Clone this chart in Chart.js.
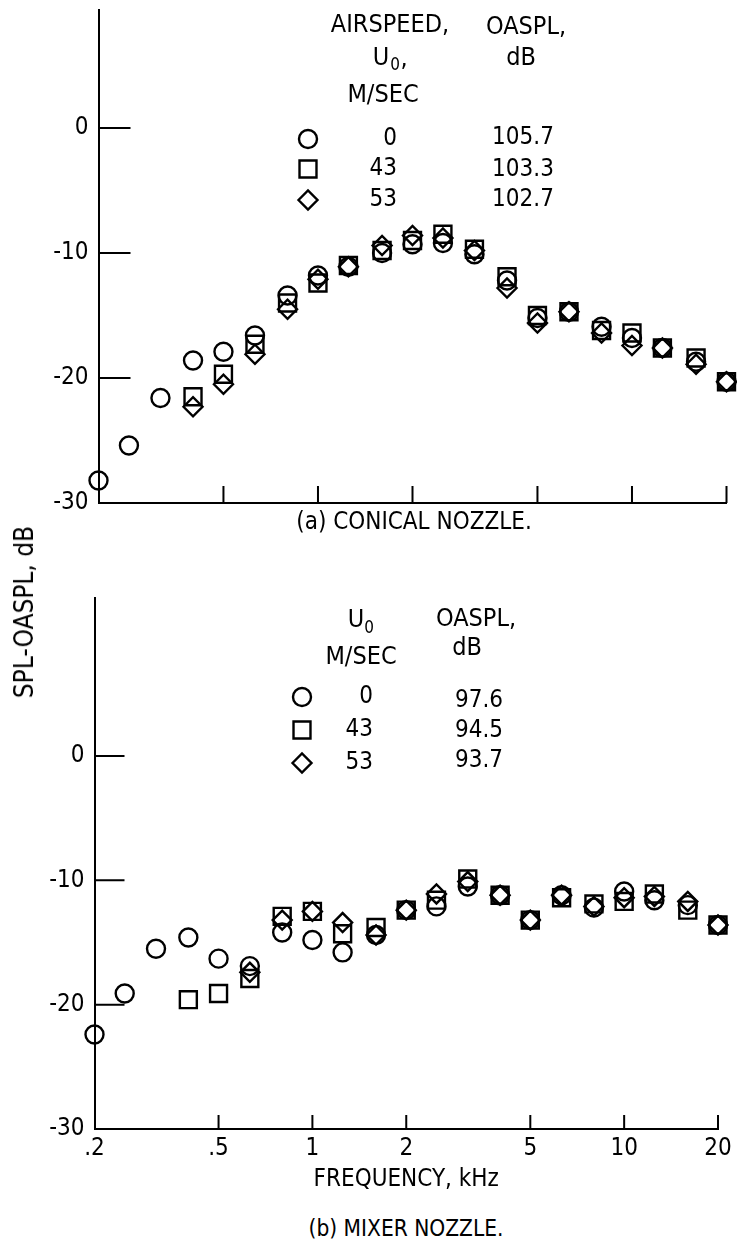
<!DOCTYPE html>
<html>
<head>
<meta charset="utf-8">
<script src="https://cdn.jsdelivr.net/npm/chart.js@4/dist/chart.umd.min.js"></script>
<style>
  html, body { margin: 0; padding: 0; background: #fff; }
  #page {
    position: relative; width: 737px; height: 1247px; overflow: hidden;
    font-family: 'Liberation Sans Narrow', 'DejaVu Sans Condensed', sans-serif; color: #000;
  }
  canvas { position: absolute; left: 0; }
  #cvA { top: 0; }
  #cvB { top: 560px; }
  .cap {
    position: absolute; font-size: 24px; white-space: nowrap;
    line-height: 1; transform: translate(-50%, -50%);
  }
  #ytitle {
    position: absolute; left: 24px; top: 612px; font-size: 26px;
    white-space: nowrap; line-height: 1; transform: translate(-50%, -50%) rotate(-90deg);
  }
</style>
</head>
<body>
<div id="page">
  <canvas id="cvA" width="737" height="520"></canvas>
  <canvas id="cvB" width="737" height="640"></canvas>
  <div class="cap" style="left:414px; top:521px;">(a) CONICAL NOZZLE.</div>
  <div class="cap" style="left:406px; top:1228px; font-size:22.5px;">(b) MIXER NOZZLE.</div>
  <div id="ytitle">SPL-OASPL, dB</div>
</div>
<script>
// One-third-octave band centre frequencies, kHz
const frequencies = [0.2, 0.25, 0.315, 0.4, 0.5, 0.63, 0.8, 1, 1.25, 1.6, 2, 2.5, 3.15, 4, 5, 6.3, 8, 10, 12.5, 16, 20];

// (a) Conical nozzle, SPL-OASPL (dB) for each airspeed
const conicalU0  = [-28.2, -25.4, -21.6, -18.6, -17.9, -16.6, -13.4, -11.8, -11.1, -10.0, -9.3, -9.2, -10.1, -12.2, -15.2, -14.7, -15.9, -16.8, -17.6, -18.7, -20.3];
const conicalU43 = [null, null, null, -21.5, -19.7, -17.3, -14.0, -12.4, -11.0, -9.8, -9.0, -8.5, -9.7, -11.9, -15.0, -14.7, -16.2, -16.4, -17.6, -18.4, -20.3];
const conicalU53 = [null, null, null, -22.3, -20.5, -18.1, -14.5, -12.1, -11.1, -9.4, -8.6, -8.8, -9.8, -12.8, -15.6, -14.7, -16.4, -17.4, -17.6, -18.9, -20.3];

// (b) Mixer nozzle, SPL-OASPL (dB) for each airspeed
const mixerU0  = [-22.4, -19.1, -15.5, -14.6, -16.3, -16.9, -14.2, -14.8, -15.8, -14.4, -12.4, -12.1, -10.5, -11.2, -13.2, -11.2, -12.2, -10.9, -11.6, -12.0, -13.6];
const mixerU43 = [null, null, null, -19.6, -19.1, -17.9, -12.9, -12.5, -14.3, -13.8, -12.4, -11.6, -9.9, -11.2, -13.2, -11.4, -11.9, -11.7, -11.1, -12.4, -13.6];
const mixerU53 = [null, null, null, null, null, -17.4, -13.2, -12.5, -13.4, -14.4, -12.4, -11.1, -10.1, -11.2, -13.2, -11.2, -12.1, -11.4, -11.3, -11.7, -13.6];

// Key table contents
const airspeeds = ['0', '43', '53'];
const conicalOaspl = ['105.7', '103.3', '102.7'];
const mixerOaspl = ['97.6', '94.5', '93.7'];

// Axis ticks
const xTickValues = [0.2, 0.5, 1, 2, 5, 10, 20];
const xTickLabels = ['.2', '.5', '1', '2', '5', '10', '20'];
const yTickValues = [-30, -20, -10, 0];

const FAMILY = "'Liberation Sans Narrow', 'DejaVu Sans Condensed', sans-serif";
Chart.defaults.font.family = FAMILY;
Chart.defaults.font.size = 24;
Chart.defaults.color = '#000';

const markerStyles = [
  { pointStyle: 'circle', pointRadius: 9 },
  { pointStyle: 'rect', pointRadius: 12 },
  { pointStyle: 'rectRot', pointRadius: 9.5 }
];

function toPoints(values) {
  const pts = [];
  values.forEach((v, i) => { if (v !== null) pts.push({ x: frequencies[i], y: v }); });
  return pts;
}

function makeDatasets(series) {
  return series.map((values, i) => ({
    label: 'U0 = ' + airspeeds[i] + ' m/s',
    data: toPoints(values),
    pointStyle: markerStyles[i].pointStyle,
    pointRadius: markerStyles[i].pointRadius,
    pointHoverRadius: markerStyles[i].pointRadius,
    borderColor: '#000',
    backgroundColor: 'rgba(0,0,0,0)',
    pointBorderWidth: 2.4,
    showLine: false,
    clip: false
  }));
}

// Tick marks pointing into the plot from the left and bottom axes
const innerTicks = {
  id: 'innerTicks',
  afterDatasetsDraw(chart, args, o) {
    const { ctx, chartArea, scales: { x, y } } = chart;
    ctx.save();
    ctx.strokeStyle = '#000';
    ctx.lineWidth = 2;
    ctx.beginPath();
    y.ticks.forEach(t => {
      if (t.value <= y.min) return;
      const py = y.getPixelForValue(t.value);
      ctx.moveTo(chartArea.left, py);
      ctx.lineTo(chartArea.left + o.yLen, py);
    });
    x.ticks.forEach(t => {
      if (t.value <= x.min) return;
      const px = x.getPixelForValue(t.value);
      ctx.moveTo(px, chartArea.bottom);
      ctx.lineTo(px, chartArea.bottom - o.xLen);
    });
    ctx.stroke();
    ctx.restore();
  }
};

// Key table: column headings, one marker per dataset, airspeed and OASPL columns
const keyTable = {
  id: 'keyTable',
  afterDraw(chart, args, o) {
    const ctx = chart.ctx;
    ctx.save();
    ctx.textBaseline = 'middle';
    ctx.fillStyle = '#000';
    o.texts.forEach(t => {
      ctx.font = (t.size || 25) + 'px ' + FAMILY;
      ctx.textAlign = t.align || 'center';
      ctx.fillText(t.text, t.x, t.y);
    });
    ctx.font = '24px ' + FAMILY;
    chart.data.datasets.forEach((ds, i) => {
      const ry = o.rowY[i];
      ctx.strokeStyle = '#000';
      ctx.fillStyle = 'rgba(0,0,0,0)';
      ctx.lineWidth = 2.4;
      Chart.helpers.drawPoint(ctx, { pointStyle: ds.pointStyle, radius: ds.pointRadius, borderWidth: 2.4, rotation: 0 }, o.markerX, ry);
      ctx.fillStyle = '#000';
      ctx.textAlign = 'right';
      ctx.fillText(airspeeds[i], o.speedRight, ry);
      ctx.textAlign = 'center';
      ctx.fillText(o.oaspl[i], o.oasplX, o.oasplRowY[i]);
    });
    ctx.restore();
  }
};

function makeScales(cfg) {
  return {
    x: {
      type: 'logarithmic',
      min: 0.2,
      max: 20,
      afterBuildTicks: s => { s.ticks = xTickValues.map(v => ({ value: v })); },
      afterFit: s => { s.height = cfg.xHeight; s.paddingLeft = 0; s.paddingRight = 0; },
      grid: { drawOnChartArea: false, drawTicks: false },
      border: { display: true, color: '#000', width: 2 },
      ticks: {
        display: cfg.xLabels,
        autoSkip: false,
        maxRotation: 0,
        padding: 5,
        callback: (v, i) => xTickLabels[i]
      },
      title: {
        display: !!cfg.xTitle,
        text: cfg.xTitle || '',
        padding: { top: 0, bottom: 6 },
        font: { size: 24 }
      }
    },
    y: {
      type: 'linear',
      min: -30,
      max: cfg.yMax,
      afterBuildTicks: s => { s.ticks = yTickValues.map(v => ({ value: v })); },
      afterFit: s => { s.width = cfg.yWidth; s.paddingTop = 0; s.paddingBottom = 0; },
      grid: { drawOnChartArea: false, drawTicks: false },
      border: { display: true, color: '#000', width: 2 },
      ticks: { padding: 10, callback: v => String(v) }
    }
  };
}

function makeChart(id, series, cfg, key) {
  return new Chart(document.getElementById(id), {
    type: 'scatter',
    data: { datasets: makeDatasets(series) },
    options: {
      responsive: false,
      animation: false,
      devicePixelRatio: 1,
      layout: { padding: cfg.padding, autoPadding: false },
      scales: makeScales(cfg),
      plugins: {
        legend: { display: false },
        tooltip: { enabled: false },
        innerTicks: cfg.ticks,
        keyTable: key
      }
    },
    plugins: [innerTicks, keyTable]
  });
}

// (a) Conical nozzle
makeChart('cvA', [conicalU0, conicalU43, conicalU53], {
  xHeight: 17, yWidth: 98.5, yMax: 9.44, xLabels: false,
  padding: { left: 0, right: 10.5, top: 10, bottom: 0 },
  ticks: { yLen: 32, xLen: 17 }
}, {
  texts: [
    { text: 'AIRSPEED,', x: 390, y: 25 },
    { text: 'U', x: 381, y: 58 },
    { text: '0', x: 395, y: 66, size: 17 },
    { text: ',', x: 404, y: 59 },
    { text: 'M/SEC', x: 383, y: 95 },
    { text: 'OASPL,', x: 526, y: 27 },
    { text: 'dB', x: 521, y: 58 }
  ],
  markerX: 308, rowY: [139, 169, 200], speedRight: 397,
  oaspl: conicalOaspl, oasplX: 523, oasplRowY: [138, 170, 200]
});

// (b) Mixer nozzle
makeChart('cvB', [mixerU0, mixerU43, mixerU53], {
  xHeight: 71, yWidth: 94.5, yMax: 12.7, xLabels: true, xTitle: 'FREQUENCY, kHz',
  padding: { left: 0, right: 19, top: 38, bottom: 0 },
  ticks: { yLen: 30, xLen: 14 }
}, {
  texts: [
    { text: 'U', x: 356, y: 60 },
    { text: '0', x: 369, y: 69, size: 17 },
    { text: 'M/SEC', x: 361, y: 97 },
    { text: 'OASPL,', x: 476, y: 59 },
    { text: 'dB', x: 467, y: 88 }
  ],
  markerX: 302, rowY: [137, 170, 203], speedRight: 373,
  oaspl: mixerOaspl, oasplX: 479, oasplRowY: [141, 171, 201]
});
</script>
</body>
</html>
